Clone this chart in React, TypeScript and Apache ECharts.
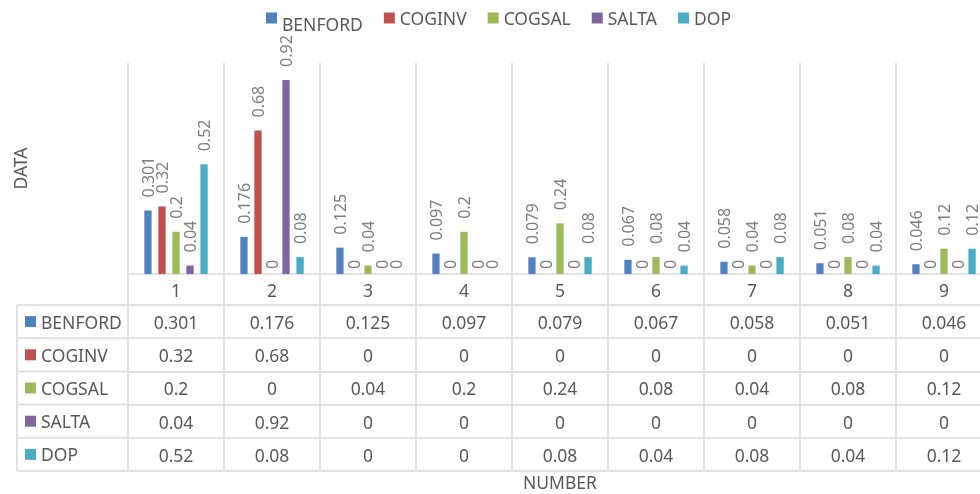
import React, { useEffect, useRef } from "react";
import * as echarts from "echarts";

const categories = ["1", "2", "3", "4", "5", "6", "7", "8", "9"];
const seriesNames = ["BENFORD", "COGINV", "COGSAL", "SALTA", "DOP"];
const benford = [0.301, 0.176, 0.125, 0.097, 0.079, 0.067, 0.058, 0.051, 0.046];
const coginv = [0.32, 0.68, 0, 0, 0, 0, 0, 0, 0];
const cogsal = [0.2, 0, 0.04, 0.2, 0.24, 0.08, 0.04, 0.08, 0.12];
const salta = [0.04, 0.92, 0, 0, 0, 0, 0, 0, 0];
const dop = [0.52, 0.08, 0, 0, 0.08, 0.04, 0.08, 0.04, 0.12];
const seriesValues = [benford, coginv, cogsal, salta, dop];
const colors = ["#4F81BD", "#C0504D", "#9BBB59", "#8064A2", "#4BACC6"];

const FONT = "Noto Sans";
const TEXT = "#595959";
const GRID = "#d9d9d9";
const LW = 1.5;

// layout
const CHART_W = 992; // plot continues past the visible 980px edge
const AXIS_Y = 274;
const FIRST_ROW = 31; // offset of first table row top below the axis
const ROW_H = 33.2;
const TABLE_LEFT = 17;
const PLOT_LEFT = 128;

export default function App() {
  const ref = useRef<HTMLDivElement>(null);
  useEffect(() => {
    if (!ref.current) return;
    const chart = echarts.init(ref.current, null, { renderer: "svg" });
    const nRows = seriesNames.length;
    const tableBottom = FIRST_ROW + ROW_H * nRows;

    const rowAxes = seriesValues.map((vals, k) => ({
      type: "category",
      data: vals.map((v) => String(v)),
      position: "bottom",
      offset: FIRST_ROW + ROW_H * k,
      axisLine: { show: true, lineStyle: { color: GRID, width: LW } },
      axisTick: { show: false },
      axisLabel: {
        show: true,
        interval: 0,
        margin: 8,
        fontFamily: FONT,
        fontSize: 17.5,
        color: TEXT,
      },
      splitLine: { show: false },
    }));

    const bottomAxis = {
      type: "category",
      data: categories,
      position: "bottom",
      offset: tableBottom,
      axisLine: { show: true, lineStyle: { color: GRID, width: LW } },
      axisTick: { show: false },
      axisLabel: { show: false },
      splitLine: { show: false },
    };

    const header: any[] = [];
    for (let k = 0; k <= nRows; k++) {
      const y = AXIS_Y + FIRST_ROW + ROW_H * k;
      header.push({
        type: "line",
        shape: { x1: TABLE_LEFT, y1: y, x2: PLOT_LEFT, y2: y },
        style: { stroke: GRID, lineWidth: LW },
        silent: true,
      });
    }
    header.push({
      type: "line",
      shape: {
        x1: TABLE_LEFT,
        y1: AXIS_Y + FIRST_ROW,
        x2: TABLE_LEFT,
        y2: AXIS_Y + tableBottom,
      },
      style: { stroke: GRID, lineWidth: LW },
      silent: true,
    });
    seriesNames.forEach((name, k) => {
      const cy = AXIS_Y + FIRST_ROW + ROW_H * k + ROW_H / 2;
      header.push({
        type: "rect",
        shape: { x: 25, y: cy - 5.5, width: 11, height: 11 },
        style: { fill: colors[k] },
        silent: true,
      });
      header.push({
        type: "text",
        x: 41,
        y: cy,
        style: {
          text: name,
          fill: TEXT,
          font: `17.5px "${FONT}"`,
          verticalAlign: "middle",
          align: "left",
        },
        silent: true,
      });
    });

    const option: any = {
      animation: false,
      color: colors,
      textStyle: { fontFamily: FONT },
      legend: {
        top: 4,
        left: 261,
        itemWidth: 11,
        itemHeight: 11,
        itemGap: 21,
        icon: "rect",
        formatter: (name: string) =>
          name === seriesNames[0] ? `{low|${name}}` : name,
        textStyle: {
          fontFamily: FONT,
          fontSize: 17.5,
          color: TEXT,
          rich: {
            low: {
              fontFamily: FONT,
              fontSize: 17.5,
              color: TEXT,
              padding: [11, 0, 0, 0],
            },
          },
        },
        data: seriesNames,
      },
      grid: {
        left: PLOT_LEFT,
        right: 0,
        top: 63,
        bottom: 494 - AXIS_Y,
        containLabel: false,
      },
      xAxis: [
        {
          type: "category",
          data: categories,
          position: "bottom",
          axisLine: { show: true, lineStyle: { color: GRID, width: LW } },
          axisTick: {
            show: true,
            length: tableBottom,
            lineStyle: { color: GRID, width: LW },
          },
          axisLabel: {
            show: true,
            interval: 0,
            margin: 7,
            fontFamily: FONT,
            fontSize: 17.5,
            color: TEXT,
          },
          splitLine: { show: true, lineStyle: { color: GRID, width: LW } },
          name: "NUMBER",
          nameLocation: "middle",
          nameGap: 199,
          nameTextStyle: { fontFamily: FONT, fontSize: 17.5, color: TEXT },
        },
        ...rowAxes,
        bottomAxis,
      ],
      yAxis: {
        type: "value",
        min: 0,
        max: 1,
        axisLine: { show: false },
        axisTick: { show: false },
        axisLabel: { show: false },
        splitLine: { show: false },
        name: "DATA",
        nameLocation: "middle",
        nameGap: 99,
        nameTextStyle: { fontFamily: FONT, fontSize: 17.5, color: TEXT },
      },
      series: seriesNames.map((name, i) => ({
        name,
        type: "bar",
        xAxisIndex: 0,
        barGap: "92%",
        barCategoryGap: "34%",
        label: {
          show: true,
          position: "top",
          rotate: 90,
          align: "left",
          verticalAlign: "middle",
          distance: 13,
          fontFamily: FONT,
          fontSize: 16,
          color: "#7f7f7f",
        },
        data: seriesValues[i].map((v) =>
          v === 0 ? { value: v, label: { distance: 5 } } : { value: v }
        ),
      })),
      graphic: header,
    };
    chart.setOption(option);
    return () => chart.dispose();
  }, []);
  return (
    <div
      style={{
        position: "fixed",
        left: 0,
        top: 0,
        width: 980,
        height: 494,
        overflow: "hidden",
      }}
    >
      <div ref={ref} style={{ width: CHART_W, height: 494 }} />
    </div>
  );
}
